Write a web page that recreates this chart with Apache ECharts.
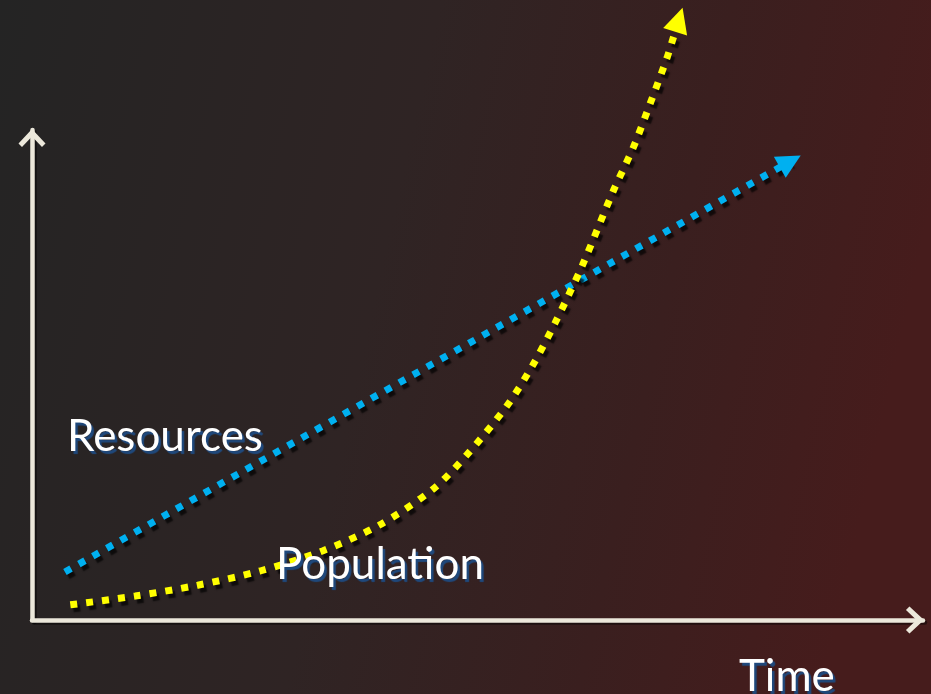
<!DOCTYPE html>
<html>
<head>
<meta charset="utf-8">
<script src="https://cdn.jsdelivr.net/npm/echarts@6/dist/echarts.min.js"></script>
<style>
html,body{margin:0;padding:0;width:931px;height:694px;overflow:hidden;
background:linear-gradient(100deg,#242424 0%,#2f2424 45%,#3a1f1f 75%,#461c1c 100%);}
#chart{width:931px;height:694px;}
</style>
</head>
<body>
<div id="chart"></div>
<script>
// Population (yellow) curve
const populationTime  = [4.3, 11.6, 18.6, 25.6, 32.6, 39.0, 45.0, 48.8, 53.3, 56.2, 58.7, 61.8, 65.2, 67.5, 69.4, 71.3, 72.2];
const populationValue = [3.1, 4.9, 7.1, 10.0, 14.1, 19.4, 26.7, 33.7, 43.7, 52.0, 60.6, 72.5, 87.4, 96.5, 105.5, 114.9, 120.2];
const populationArrow = [[71.3, 114.9], [72.6, 122.5]];
// Resources (blue) straight line
const resourcesTime  = [3.7, 85.1];
const resourcesValue = [9.8, 93.6];
// Labels
const labels = { resources: 'Resources', population: 'Population', time: 'Time' };

const chevron = 'path://M50 0 L100 54 L87 67 L50 28 L13 67 L0 54 Z';
const axisColor = '#ece8db';
const shadow = { shadowColor: 'rgba(0,0,0,0.7)', shadowOffsetX: 3, shadowOffsetY: 4, shadowBlur: 1.5 };

const chart = echarts.init(document.getElementById('chart'));
const textShadow = { textShadowColor: '#1f497d', textShadowOffsetX: 2.5, textShadowOffsetY: 2.5, textShadowBlur: 1 };
const font = '44px Lato, "Open Sans", sans-serif';

chart.setOption({
  backgroundColor: {
    type: 'linear', x: 0, y: 0, x2: 1, y2: 0.3,
    colorStops: [
      { offset: 0, color: '#242424' },
      { offset: 0.45, color: '#2f2424' },
      { offset: 0.75, color: '#3a1f1f' },
      { offset: 1, color: '#461c1c' }
    ]
  },
  animation: false,
  grid: { left: 32, right: 8, top: 130, bottom: 74 },
  xAxis: {
    type: 'value', min: 0, max: 100,
    axisLine: {
      show: true, onZero: false,
      symbol: ['none', chevron], symbolSize: [27, 27], symbolOffset: [0, -8],
      lineStyle: { color: axisColor, width: 4.5, shadowColor: 'rgba(0,0,0,0.45)', shadowOffsetX: 2, shadowOffsetY: 2 }
    },
    axisTick: { show: false }, axisLabel: { show: false }, splitLine: { show: false }
  },
  yAxis: {
    type: 'value', min: 0, max: 100,
    axisLine: {
      show: true, onZero: false,
      symbol: ['none', chevron], symbolSize: [27, 27], symbolOffset: [0, -8],
      lineStyle: { color: axisColor, width: 4.5, shadowColor: 'rgba(0,0,0,0.45)', shadowOffsetX: 2, shadowOffsetY: 2 }
    },
    axisTick: { show: false }, axisLabel: { show: false }, splitLine: { show: false }
  },
  series: [
    {
      type: 'lines', coordinateSystem: 'cartesian2d', clip: false,
      symbol: ['none', 'triangle'], symbolSize: 24,
      lineStyle: Object.assign({ color: '#00b0f0', width: 7, type: [7, 9], cap: 'butt', opacity: 1 }, shadow),
      data: [{ coords: resourcesTime.map((t, i) => [t, resourcesValue[i]]) }],
      z: 3
    },
    {
      type: 'line', clip: false, smooth: 0.3,
      showSymbol: false, symbol: 'none',
      lineStyle: Object.assign({ color: '#ffff00', width: 7, type: [7, 9], cap: 'butt' }, shadow),
      data: populationTime.map((t, i) => [t, populationValue[i]]),
      z: 4
    },
    {
      type: 'lines', coordinateSystem: 'cartesian2d', clip: false,
      symbol: ['none', 'triangle'], symbolSize: 25,
      lineStyle: { color: '#ffff00', width: 0, opacity: 1 },
      data: [{ coords: populationArrow }],
      z: 5
    }
  ],
  graphic: [
    { type: 'text', x: 67, y: 437, z: 10,
      style: Object.assign({ text: labels.resources, fill: '#ffffff', font: font, verticalAlign: 'middle', align: 'left' }, textShadow) },
    { type: 'text', x: 276, y: 565, z: 10,
      style: Object.assign({ text: labels.population, fill: '#ffffff', font: font, verticalAlign: 'middle', align: 'left' }, textShadow) },
    { type: 'text', x: 739, y: 677, z: 10,
      style: Object.assign({ text: labels.time, fill: '#ffffff', font: font, verticalAlign: 'middle', align: 'left' }, textShadow) }
  ]
});
</script>
</body>
</html>
